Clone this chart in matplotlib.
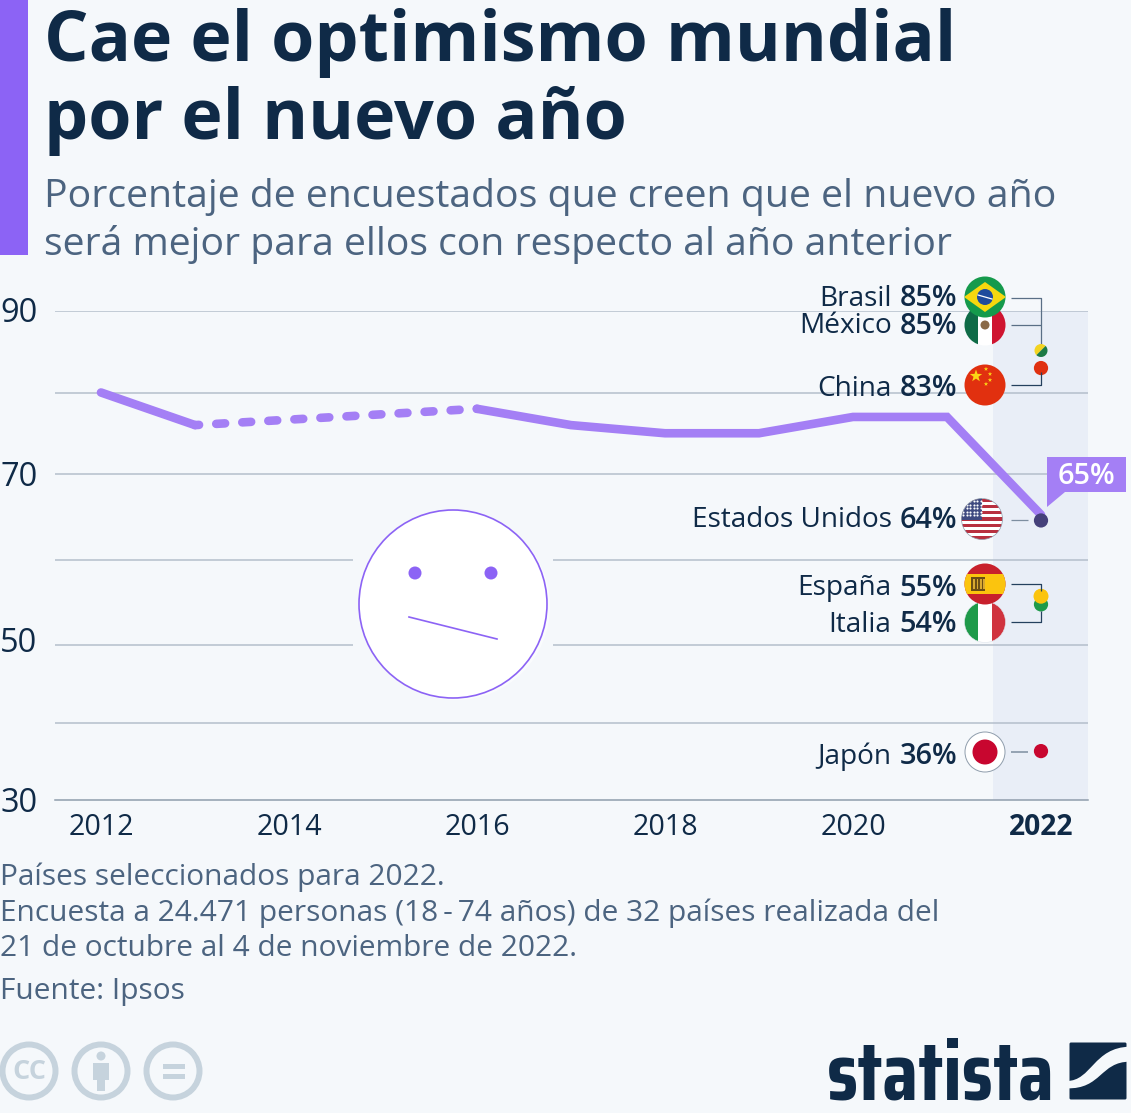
import numpy as np
import matplotlib
matplotlib.use('Agg')
import matplotlib.pyplot as plt
from matplotlib.patches import Circle, Rectangle, Polygon, Wedge, PathPatch, FancyBboxPatch
from matplotlib.path import Path

W, H = 1131, 1113
BG = '#f5f8fb'
NAVY = '#0f2a47'
SLATE = '#4c6480'
VIOLET = '#8c63f5'
LINE = '#a47ff5'
GRID = '#b4bfcb'
AXIS = '#8f9dac'
BAND = '#e9eef7'

years_a = [2012, 2013]
vals_a = [80, 76]
years_gap = [2013, 2016]
vals_gap = [76, 78]
years_b = [2016, 2017, 2018, 2019, 2020, 2021, 2022]
vals_b = [78, 76, 75, 75, 77, 77, 65]
grid_levels = [39.4, 49, 59.4, 70, 80, 90]
xticks = [2012, 2014, 2016, 2018, 2020, 2022]
ytick_labels = ['90', '70', '50', '30']
countries = ['Brasil', 'México', 'China', 'Estados Unidos', 'España', 'Italia', 'Japón']
pct = [85, 85, 83, 64, 55, 54, 36]
dot_vals = [85, 85, 83, 64.3, 55, 54, 36]
dot_colors = ['#f3d320', '#e03010', '#e03010', '#45407a', '#fbc40e', '#1f9a4a', '#c8062f']

plt.rcParams['font.family'] = ['Open Sans', 'DejaVu Sans']
fig = plt.figure(figsize=(W / 100, H / 100), dpi=100, facecolor=BG)
def fs(px):
    return px * 0.72

# main data axes
ax = fig.add_axes([55 / W, (H - 800) / H, (1088 - 55) / W, (800 - 311) / H], facecolor='none')
px_per_year = 94.0
ax.set_xlim(2012 - (101 - 55) / px_per_year, 2022 + (1088 - 1041) / px_per_year)
ax.set_ylim(30, 90)
for s in ['top', 'left', 'right']:
    ax.spines[s].set_visible(False)
ax.spines['bottom'].set_color(AXIS)
ax.spines['bottom'].set_linewidth(1.1)
ax.axvspan(2021.49, 2022.6, color=BAND, zorder=0, lw=0)
ax.set_yticks(grid_levels)
ax.set_yticklabels([])
ax.tick_params(axis='y', length=0)
ax.grid(axis='y', color=GRID, lw=1.1, zorder=1)
ax.set_axisbelow(True)
ax.set_xticks(xticks)
ax.set_xticklabels([str(x) for x in xticks], fontsize=fs(28.6), color=NAVY)
ax.tick_params(axis='x', length=0, pad=9.5)
ax.get_xticklabels()[-1].set_fontweight('bold')
ax.get_xticklabels()[-1].set_fontsize(fs(28.2))

LW = 6.2
ax.plot(years_a, vals_a, color=LINE, lw=LW, solid_capstyle='round', solid_joinstyle='miter', zorder=3)
ax.plot(years_b, vals_b, color=LINE, lw=LW, solid_capstyle='round', solid_joinstyle='miter', zorder=3)
ax.plot(years_gap, vals_gap, color=LINE, lw=LW, linestyle=(0.56, (1.03, 2.0)), dash_capstyle='round', zorder=3)

# dots for 2022
for i, (p, c) in enumerate(zip(dot_vals, dot_colors)):
    if i < 2:
        continue
    ax.scatter([2022], [p], s=105, color=c, edgecolor='none', zorder=5)
ax.scatter([2022], [dot_vals[4]], s=115, color=dot_colors[4], edgecolor='none', zorder=6)

# overlay in pixel coordinates
ov = fig.add_axes([0, 0, 1, 1], facecolor='none')
ov.set_xlim(0, W)
ov.set_ylim(H, 0)
ov.axis('off')

# accent bar
ov.add_patch(Rectangle((0, 0), 28, 255, color=VIOLET, lw=0))

# title and subtitle
ov.text(44.5, 43, 'Cae el optimismo mundial', fontsize=fs(70), fontweight='bold', color=NAVY, va='center', ha='left')
ov.text(44.5, 121, 'por el nuevo año', fontsize=fs(70), fontweight='bold', color=NAVY, va='center', ha='left')
ov.text(44, 197, 'Porcentaje de encuestados que creen que el nuevo año', fontsize=fs(39.2), color=SLATE, va='center', ha='left')
ov.text(44, 244, 'será mejor para ellos con respecto al año anterior', fontsize=fs(39.1), color=SLATE, va='center', ha='left')

# y labels
for lab, y in zip(ytick_labels, [314, 477, 644, 803]):
    ov.text(0, y, lab, fontsize=fs(32.5), color=NAVY, va='center', ha='left')

# smiley
ov.add_patch(Rectangle((353, 505), 200, 196, color=BG, lw=0, zorder=1))
ov.add_patch(Circle((456, 606), 94, color='white', lw=0, zorder=2, alpha=.6))
ov.add_patch(Circle((453, 604), 94, facecolor='white', edgecolor=VIOLET, lw=1.2, zorder=3))
ov.add_patch(Circle((415, 573), 6.5, color=VIOLET, lw=0, zorder=4))
ov.add_patch(Circle((491, 573), 6.5, color=VIOLET, lw=0, zorder=4))
ov.plot([409, 497], [617, 639], color=VIOLET, lw=1.2, zorder=4)

# connectors
def conn(xs, ys, c='#24405e', lw=0.9):
    ov.plot(xs, ys, color=c, lw=lw, zorder=2, solid_capstyle='butt')
conn([1011, 1041, 1041], [298, 298, 345], '#5a6f86')
conn([1011, 1041], [325, 325], '#5a6f86')
conn([1011, 1041, 1041], [385, 385, 372])
conn([1011, 1028], [520, 520], '#7d8ea0')
conn([1011, 1041, 1041], [584, 584, 591])
conn([1011, 1041, 1041], [622, 622, 611])
conn([1011, 1028], [752, 752], '#7d8ea0', 1.1)

# two-colour Brazil/Mexico dot
bx, by = 1041, 350.5
ov.add_patch(Wedge((bx, by), 6.5, 135, 315, color='#f3d320', lw=0, zorder=6))
ov.add_patch(Wedge((bx, by), 6.5, 315, 135, color='#1d7a45', lw=0, zorder=6))

# flags
def clip(cx, cy, r=20.5):
    return Circle((cx, cy), r, transform=ov.transData)

def add(cx, cy, artist, r=20.5, z=7):
    ov.add_artist(artist)
    artist.set_zorder(z)
    artist.set_clip_path(clip(cx, cy, r))
    return artist

def rect(cx, cy, x, y, w, h, c, z=7):
    add(cx, cy, Rectangle((x, y), w, h, color=c, lw=0), z=z)

def star(cx, cy, sx, sy, r, c, z=8, rot=0):
    ang = np.deg2rad(np.arange(10) * 36 - 90 + rot)
    rr = np.where(np.arange(10) % 2 == 0, r, r * .4)
    pts = np.c_[sx + rr * np.cos(ang), sy + rr * np.sin(ang)]
    add(cx, cy, Polygon(pts, color=c, lw=0), z=z)

# Italy (below Spain)
cx, cy = 985, 622
rect(cx, cy, cx - 21, cy - 21, 14, 42, '#1f9a4a', z=7)
rect(cx, cy, cx - 7, cy - 21, 14, 42, '#ffffff', z=7)
rect(cx, cy, cx + 7, cy - 21, 14, 42, '#d0333f', z=7)
# Spain
cx, cy = 985, 584
rect(cx, cy, cx - 21, cy - 21, 42, 42, '#c8202c', z=8)
rect(cx, cy, cx - 21, cy - 10, 42, 20, '#fbc40e', z=8)
rect(cx, cy, cx - 14, cy - 7, 14, 14, '#6b4d14', z=9)
for dx in [-12, -8.5, -5, -2]:
    rect(cx, cy, cx + dx, cy - 5, 1.6, 10, '#d8a830', z=10)
# Mexico (below Brazil)
cx, cy = 985, 325
rect(cx, cy, cx - 21, cy - 21, 14, 42, '#0f6b47', z=7)
rect(cx, cy, cx - 7, cy - 21, 14, 42, '#ffffff', z=7)
rect(cx, cy, cx + 7, cy - 21, 14, 42, '#cf1430', z=7)
add(cx, cy, Circle((cx, cy), 4.5, color='#8a6a48', lw=0), z=8)
# Brazil
cx, cy = 985, 297
rect(cx, cy, cx - 21, cy - 21, 42, 42, '#159a4c', z=8)
add(cx, cy, Polygon([(cx - 21, cy), (cx, cy - 15), (cx + 21, cy), (cx, cy + 15)], color='#f6d80f', lw=0), z=9)
add(cx, cy, Circle((cx, cy), 8, color='#1f4b9c', lw=0), z=10)
ov.plot([cx - 7, cx + 7], [cy - 2, cy + 2], color='white', lw=0.9, zorder=11)
# China
cx, cy = 985, 385
rect(cx, cy, cx - 21, cy - 21, 42, 42, '#e1300f', z=7)
star(cx, cy, cx - 9, cy - 9, 6.5, '#fbd515')
for dx, dy in [(1, -16), (5, -11), (5, -5), (1, -1)]:
    star(cx, cy, cx + dx, cy + dy, 2.3, '#fbd515')
# USA
cx, cy = 982, 519
for k in range(13):
    rect(cx, cy, cx - 21, cy - 20.5 + k * 41 / 13, 42, 41 / 13 + .2, '#b8303f' if k % 2 == 0 else '#ffffff', z=7)
rect(cx, cy, cx - 21, cy - 21, 21, 21.5, '#3f4a80', z=8)
xs_star, ys_star = np.meshgrid(np.arange(cx - 19, cx, 3.6), np.arange(cy - 18, cy, 3.6))
sc = ov.scatter(xs_star.ravel(), ys_star.ravel(), s=2.4, color='white', lw=0, zorder=9)
sc.set_clip_path(clip(cx, cy))
ov.add_patch(Circle((cx, cy), 20.5, facecolor='none', edgecolor='#8f9dac', lw=0.5, zorder=10))
# Japan
cx, cy = 985, 752
ov.add_patch(Circle((cx, cy), 20, facecolor='white', edgecolor='#8f9dac', lw=0.7, zorder=7))
ov.add_patch(Circle((cx, cy), 12.5, color='#c8062f', lw=0, zorder=8))
ov.add_patch(Circle((985, 622), 20.5, facecolor='none', edgecolor='#dfe5ec', lw=0.4, zorder=7))

# country labels
label_y = [299, 326, 389, 520, 588, 625, 757]
r = fig.canvas.get_renderer()
for name, p, y in zip(countries, pct, label_y):
    t = ov.text(957, y, f'{p}%', fontsize=fs(28.7), fontweight=600, color=NAVY, ha='right', va='center', zorder=12)
    bb = t.get_window_extent(r)
    ov.text(bb.x0 - 8, y, name, fontsize=fs(28.05), color=NAVY, ha='right', va='center', zorder=12)

# callout
ov.add_patch(Polygon([(1047, 457), (1126, 457), (1126, 492), (1065, 492), (1047, 507)], color=LINE, lw=0, zorder=12))
ov.text(1086, 476, '65%', fontsize=fs(28.7), fontweight=600, color='white', ha='center', va='center', zorder=13)

# footer
foot = ['Países seleccionados para 2022.',
        'Encuesta a 24.471 personas (18\u2009-\u200974 años) de 32 países realizada del',
        '21 de octubre al 4 de noviembre de 2022.']
for s, y in zip(foot, [877, 913, 949]):
    ov.text(0, y, s, fontsize=fs(29.93), color=SLATE, ha='left', va='center')
ov.text(0, 991, 'Fuente: Ipsos', fontsize=fs(29.93), color=SLATE, ha='left', va='center')

# licence icons
ICON = '#c6d3dd'
for x in [29, 101, 173]:
    ov.add_patch(Circle((x, 1071), 26.5, facecolor='none', edgecolor=ICON, lw=4.3))
ov.text(29, 1072, 'CC', fontsize=fs(27), fontweight='bold', color=ICON, ha='center', va='center')
ov.add_patch(Circle((101, 1056), 4.5, color=ICON, lw=0))
ov.add_patch(Rectangle((93, 1063), 16, 17, color=ICON, lw=0))
ov.add_patch(Rectangle((97, 1075), 8, 16, color=ICON, lw=0))
ov.add_patch(Rectangle((163, 1064), 22, 5, color=ICON, lw=0))
ov.add_patch(Rectangle((163, 1074), 22, 5, color=ICON, lw=0))

# logo
logo = ov.text(827, 1099, 'statista', fontsize=fs(80), fontweight='bold', color=NAVY,
               family=['Saira Condensed', 'Open Sans'], ha='left', va='baseline')
w0 = logo.get_window_extent(r).width
logo.set_fontsize(fs(80) * 228 / w0)
ov.add_patch(FancyBboxPatch((1069.5, 1042.5), 57, 57, boxstyle='round,pad=0,rounding_size=1.5', color=NAVY, lw=0))
def zx(v): return 810 + v / 3
def zy(v): return 1020 + v / 3
band = Path([(zx(770), zy(183)), (zx(845), zy(183)), (zx(850), zy(82)), (zx(960), zy(80)),
             (zx(960), zy(125)), (zx(870), zy(125)), (zx(875), zy(208)), (zx(770), zy(205)), (zx(770), zy(183))],
            [Path.MOVETO, Path.CURVE4, Path.CURVE4, Path.CURVE4, Path.LINETO, Path.CURVE4, Path.CURVE4, Path.CURVE4, Path.CLOSEPOLY])
ov.add_patch(PathPatch(band, facecolor=BG, edgecolor='none'))

fig.savefig('out.png', dpi=100, facecolor=BG)
